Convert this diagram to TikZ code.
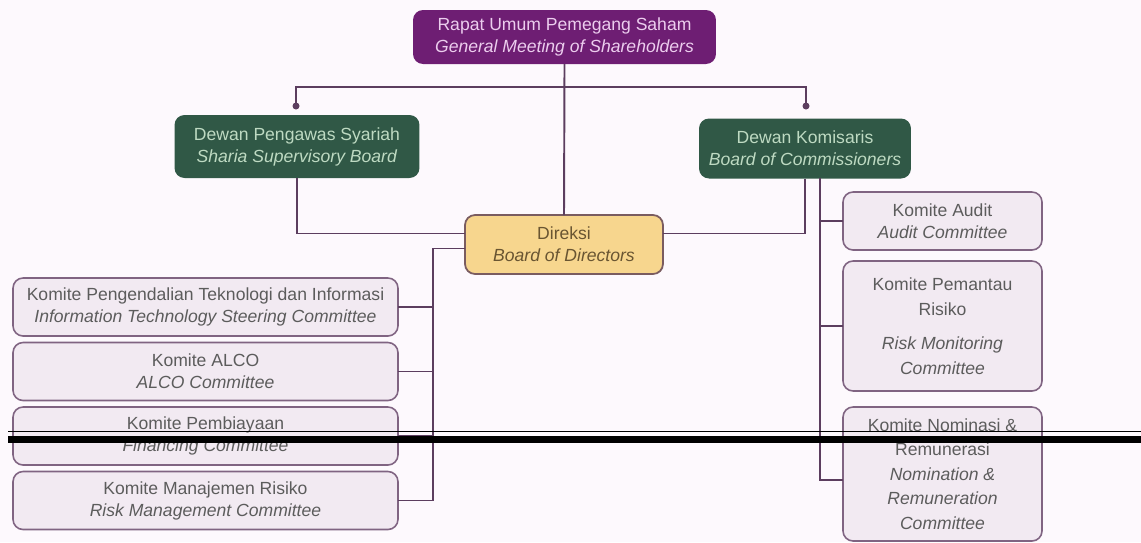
\documentclass[tikz,border=0pt]{standalone}
\usepackage{fontspec}
\setmainfont{Liberation Sans}
\usepackage{xcolor}
\usepackage{tikz}
\usetikzlibrary{calc}

\definecolor{bgpink}{RGB}{253,249,253}
\definecolor{rupsfill}{RGB}{110,30,115}
\definecolor{rupstext}{RGB}{236,205,238}
\definecolor{boardfill}{RGB}{48,88,70}
\definecolor{boardtext}{RGB}{190,218,194}
\definecolor{dirfill}{RGB}{247,214,142}
\definecolor{dirdraw}{RGB}{122,92,96}
\definecolor{dirtext}{RGB}{105,85,50}
\definecolor{komfill}{RGB}{242,234,242}
\definecolor{komdraw}{RGB}{128,100,130}
\definecolor{komtext}{RGB}{92,92,92}
\definecolor{linkcol}{RGB}{92,62,95}

\begin{document}
\begin{tikzpicture}[x=0.02cm, y=-0.02cm, font=\fontsize{10}{12.5}\selectfont,
  every node/.style={align=center, rounded corners=0.2cm, outer sep=0pt, inner sep=2pt},
  rups/.style={fill=rupsfill, text=rupstext, minimum width=6.06cm, minimum height=1.08cm},
  board/.style={fill=boardfill, text=boardtext, minimum height=1.2cm},
  dir/.style={fill=dirfill, draw=dirdraw, line width=1pt, text=dirtext, minimum width=3.96cm, minimum height=1.18cm},
  kom/.style={fill=komfill, draw=komdraw, line width=0.9pt, text=komtext, minimum height=1.16cm},
  komL/.style={kom, minimum width=7.7cm},
  komR/.style={kom, minimum width=3.98cm},
  dot/.style={circle, fill=linkcol, minimum size=0.14cm, inner sep=0pt},
  link/.style={draw=linkcol, line width=1.1pt}]
  \fill[bgpink] (0,0) rectangle (1141,542);
  \useasboundingbox (0,0) rectangle (1141,542);

  % top
  \node[rups] (rups) at (564.5,37) {Rapat Umum Pemegang Saham\\\textit{General Meeting of Shareholders}};
  \node[board, minimum width=4.9cm, minimum height=1.26cm] (dps) at (297,146.5) {Dewan Pengawas Syariah\\\textit{Sharia Supervisory Board}};
  \node[board, minimum width=4.24cm] (dk) at (805,148.5) {Dewan Komisaris\\\textit{Board of Commissioners}};
  \node[dir] (dir) at (564,244.5) {Direksi\\\textit{Board of Directors}};
  \node[dot] (dotL) at (296,106) {};
  \node[dot] (dotR) at (806,106) {};
  \coordinate (split) at (564,87);

  % committees of the board of directors
  \node[komL] (it) at (205.5,307) {Komite Pengendalian Teknologi dan Informasi\\\textit{Information Technology Steering Committee}};
  \node[komL] (alco) at (205.5,371.5) {Komite ALCO\\\textit{ALCO Committee}};
  \node[komL] (fin) at (205.5,436) {Komite Pembiayaan\\\textit{Financing Committee}};
  \node[komL] (rm) at (205.5,500.5) {Komite Manajemen Risiko\\\textit{Risk Management Committee}};

  % committees of the board of commissioners
  \node[komR] (audit) at (942.5,221) {Komite Audit\\\textit{Audit Committee}};
  \node[komR, minimum height=2.6cm] (rmon) at (942.5,326) {Komite Pemantau\\[1.5pt]Risiko\\[7pt]\textit{Risk Monitoring}\\[1.5pt]\textit{Committee}};
  \node[komR, minimum height=2.68cm] (nom) at (942.5,474) {Komite Nominasi \&\\[1.5pt]Remunerasi\\[1.5pt]\textit{Nomination \&}\\[1.5pt]\textit{Remuneration}\\[1.5pt]\textit{Committee}};
  \coordinate (lspine) at (433,300);
  \coordinate (rspine) at (820,178);

  % connectors
  \draw[link] (rups.south) -- (dir.north);
  \draw[link] (dotL) |- (split) -| (dotR);
  \draw[link] (dps.south) |- ([yshift=0.22cm]dir.west);
  \draw[link] (dk.south) |- ([yshift=0.22cm]dir.east);
  \draw[link] ([yshift=-0.08cm]dir.west) -| (lspine) |- (rm.east);
  \foreach \k in {it, alco, fin}
    \draw[link] (\k.east) -- (\k.east -| lspine);
  \draw[link] (rspine) |- ([yshift=-0.12cm]nom.west);
  \foreach \k in {audit, rmon}
    \draw[link] (\k.west) -- (\k.west -| rspine);

  % black rules across
  \draw[black, line width=0.03cm] (8,431.5) -- (1141,431.5);
  \draw[black, line width=0.13cm] (8,439.5) -- (1141,439.5);
\end{tikzpicture}
\end{document}
